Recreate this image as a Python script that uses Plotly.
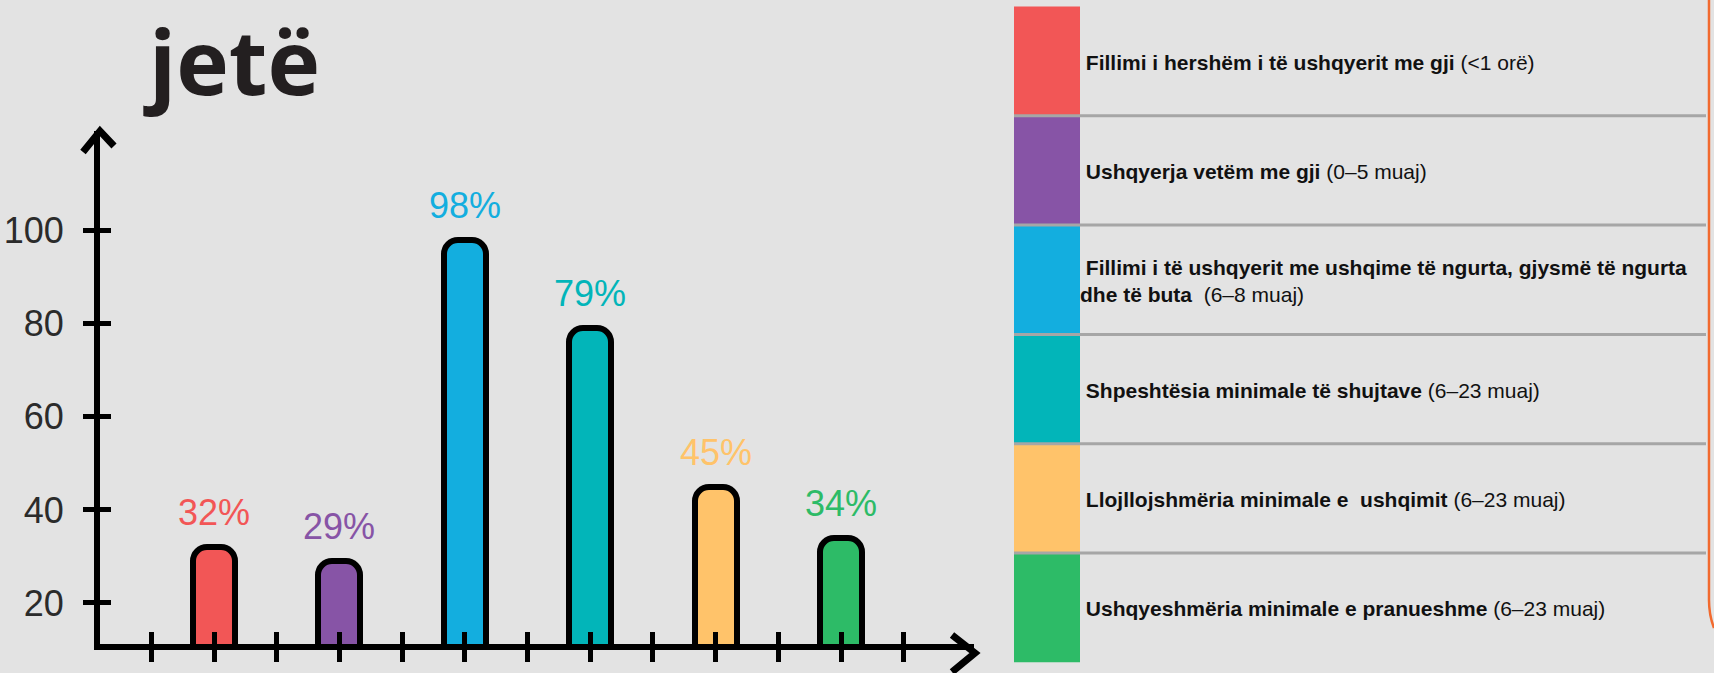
import plotly.graph_objects as go

# ---------------- data ----------------
label_bold = [
    "Fillimi i hershëm i të ushqyerit me gji",
    "Ushqyerja vetëm me gji",
    "Fillimi i të ushqyerit me ushqime të ngurta, gjysmë të ngurta\ndhe të buta",
    "Shpeshtësia minimale të shujtave",
    "Llojllojshmëria minimale e  ushqimit",
    "Ushqyeshmëria minimale e pranueshme",
]
label_note = ["(&lt;1 orë)", "(0–5 muaj)", " (6–8 muaj)", "(6–23 muaj)", "(6–23 muaj)", "(6–23 muaj)"]
values = [32, 29, 98, 79, 45, 34]
colors = ["#F25656", "#8754A6", "#13AEDF", "#02B5B9", "#FFC36A", "#2DBB67"]
y_ticks = [20, 40, 60, 80, 100]
title_text = "jetë"

W, H = 1714, 673
def px(x):
    return x / W
def py(y):
    return 1 - y / H

x_pos = [i + 1 for i in range(len(values))]
x_ticks = [0.5 * k for k in range(1, 2 * len(values) + 2)]
x_range = [0.091, 7.06]
y_range = [11.19, 121.4]
x_dom = [px(100), px(974)]
y_dom = [py(644), py(131)]

fig = go.Figure()
fig.add_trace(go.Bar(
    x=x_pos, y=values, width=0.335,
    marker=dict(color=colors, line=dict(color="black", width=6), cornerradius=14),
    hoverinfo="skip", showlegend=False,
))
# invisible trace to anchor the overlay axes (ticks on the other side of the axis line)
fig.add_trace(go.Scatter(
    x=x_pos, y=values, xaxis="x2", yaxis="y2", mode="markers",
    marker=dict(opacity=0), hoverinfo="skip", showlegend=False,
))

# value labels
for xv, v, c in zip(x_pos, values, colors):
    fig.add_annotation(x=xv, y=v, xref="x", yref="y", text=f"{v}%", showarrow=False,
                       yanchor="bottom", yshift=12,
                       font=dict(family="Arial, Liberation Sans", size=36, color=c))

tickfont = dict(family="Arial, Liberation Sans", size=36, color="#2b2b2b")
fig.update_layout(
    width=W, height=H, autosize=False,
    margin=dict(l=0, r=0, t=0, b=0),
    paper_bgcolor="#e3e3e3", plot_bgcolor="rgba(0,0,0,0)",
    bargap=0,
    xaxis=dict(domain=x_dom, range=x_range, showgrid=False, zeroline=False,
               showline=True, linecolor="black", linewidth=6,
               ticks="outside", tickvals=x_ticks, ticklen=12, tickwidth=5, tickcolor="black",
               showticklabels=False, fixedrange=True),
    yaxis=dict(domain=y_dom, range=y_range, showgrid=False, zeroline=False,
               showline=True, linecolor="black", linewidth=6,
               ticks="outside", tickvals=y_ticks, ticklen=11, tickwidth=5, tickcolor="black",
               tickfont=tickfont, ticklabelstandoff=12, fixedrange=True),
    xaxis2=dict(overlaying="x", anchor="y2", range=x_range, showgrid=False, zeroline=False,
                showline=False, ticks="inside", tickvals=x_ticks, ticklen=12, tickwidth=5,
                tickcolor="black", showticklabels=False, fixedrange=True),
    yaxis2=dict(overlaying="y", anchor="x2", range=y_range, showgrid=False, zeroline=False,
                showline=False, ticks="inside", tickvals=y_ticks, ticklen=11, tickwidth=5,
                tickcolor="black", showticklabels=False, fixedrange=True),
)

# arrow heads on the axes
def path(points):
    return "M " + " L ".join(f"{px(a):.5f},{py(b):.5f}" for a, b in points)

fig.add_shape(type="path", xref="paper", yref="paper",
              path=path([(952, 635), (975, 653), (952, 672)]),
              line=dict(color="black", width=7))
fig.add_shape(type="path", xref="paper", yref="paper",
              path=path([(83, 152), (100, 131), (114, 146)]),
              line=dict(color="black", width=7))

# title
fig.add_annotation(xref="paper", yref="paper", x=px(141), y=py(60), xanchor="left", yanchor="middle",
                   text=title_text, showarrow=False,
                   font=dict(family="Open Sans", size=89, weight=700, color="#231f20"))

# side legend table
top0, row_h = 6.5, 109.3
for i, (b, n, c) in enumerate(zip(label_bold, label_note, colors)):
    y0 = top0 + i * row_h
    y1 = y0 + row_h
    fig.add_shape(type="rect", xref="paper", yref="paper",
                  x0=px(1014), x1=px(1080), y0=py(y1), y1=py(y0),
                  fillcolor=c, line=dict(width=0), layer="below")
    lines = b.split("\n")
    if len(lines) == 1:
        txt = f"\u00a0<b>{lines[0]}</b> {n}"
    else:
        txt = f"\u00a0<b>{lines[0]}</b><br><b>{lines[1]}</b>\u00a0{n}"
    fig.add_annotation(xref="paper", yref="paper", x=px(1078), y=py((y0 + y1) / 2 + 1),
                       xanchor="left", yanchor="middle", align="left", showarrow=False,
                       text=txt, font=dict(family="Arial, Liberation Sans", size=21, color="#111111"))
for i in range(1, len(values)):
    yl = top0 + i * row_h
    fig.add_shape(type="line", xref="paper", yref="paper",
                  x0=px(1014), x1=px(1706), y0=py(yl), y1=py(yl),
                  line=dict(color="#a6a6a6", width=3))

# orange border at the right edge
fig.add_shape(type="path", xref="paper", yref="paper",
              path=f"M {px(1709):.5f},{py(0):.5f} L {px(1709):.5f},{py(600):.5f} "
                   f"Q {px(1709):.5f},{py(615):.5f} {px(1714):.5f},{py(628):.5f}",
              line=dict(color="#F26A2E", width=2.5))

fig.write_html("out.html", config={"displayModeBar": False},
               post_script="document.body.style.margin='0';document.body.style.overflow='hidden';")
